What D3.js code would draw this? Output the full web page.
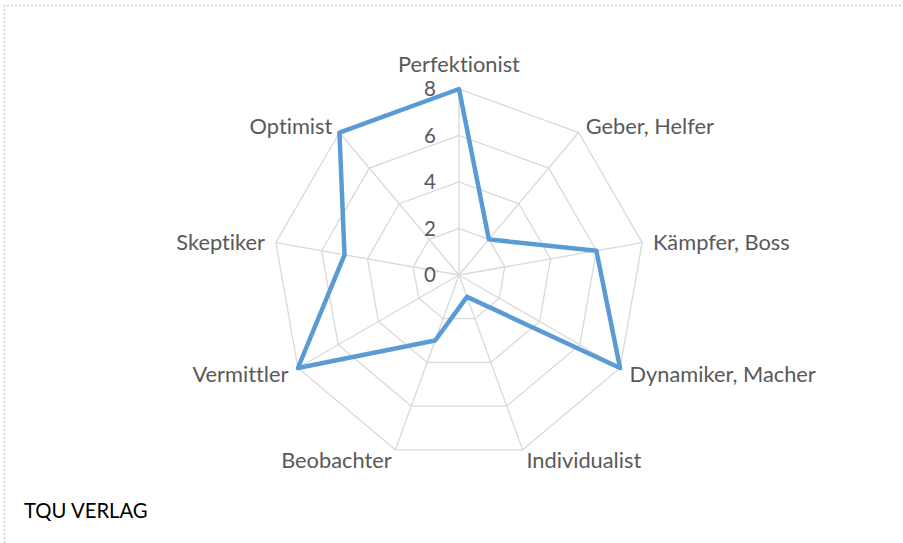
<!DOCTYPE html>
<meta charset="utf-8">
<script src="https://d3js.org/d3.v7.min.js"></script>
<style>
  body { margin: 0; background: #fff; }
  text { font-family: Lato, "Open Sans", sans-serif; font-variant-ligatures: none; }
</style>
<body>
<script>
// Werte
var categories = ["Perfektionist", "Geber, Helfer", "Kämpfer, Boss", "Dynamiker, Macher",
                  "Individualist", "Beobachter", "Vermittler", "Skeptiker", "Optimist"];
var values = [8, 2, 6, 8, 1, 3, 8, 5, 8];
var ticks = [0, 2, 4, 6, 8];

var width = 903, height = 543;
var cx = 459, cy = 275, R = 186;

var svg = d3.select("body").append("svg")
    .attr("width", width)
    .attr("height", height);

// gepunkteter Rahmen (nur oben und links sichtbar)
svg.append("path")
    .attr("d", "M4.5,543 V5.5 H903")
    .attr("fill", "none")
    .attr("stroke", "#d0d0d0")
    .attr("stroke-width", 1.5)
    .attr("stroke-dasharray", "2,2");

var r = d3.scaleLinear().domain([0, 8]).range([0, R]);
var angle = d3.scaleLinear().domain([0, categories.length]).range([0, 2 * Math.PI]);

function pt(i, v) {
  var a = angle(i);
  return [cx + r(v) * Math.sin(a), cy - r(v) * Math.cos(a)];
}

var g = svg.append("g");

// Gitterringe
g.selectAll("path.ring")
  .data(ticks.filter(d => d > 0))
  .join("path")
    .attr("class", "ring")
    .attr("fill", "none")
    .attr("stroke", "#d9d9d9")
    .attr("stroke-width", 1.3)
    .attr("d", t => d3.line()(categories.map((c, i) => pt(i, t))) + "Z");

// Speichen
g.selectAll("line.spoke")
  .data(categories)
  .join("line")
    .attr("class", "spoke")
    .attr("stroke", "#d9d9d9")
    .attr("stroke-width", 1.3)
    .attr("x1", cx).attr("y1", cy)
    .attr("x2", (d, i) => pt(i, 8)[0])
    .attr("y2", (d, i) => pt(i, 8)[1]);

// Achsenbeschriftung
g.selectAll("text.tick")
  .data(ticks)
  .join("text")
    .attr("class", "tick")
    .attr("x", cx - 23)
    .attr("y", d => cy - r(d))
    .attr("dy", "0.36em")
    .attr("text-anchor", "end")
    .attr("font-size", 20.5)
    .attr("fill", "#595959")
    .text(d => d);

// Kategorien
g.selectAll("text.cat")
  .data(categories)
  .join("text")
    .attr("class", "cat")
    .attr("font-size", 21.8)
    .attr("fill", "#595959")
    .attr("text-anchor", (d, i) => {
      var s = Math.sin(angle(i));
      return Math.abs(s) < 0.01 ? "middle" : (s > 0 ? "start" : "end");
    })
    .attr("x", (d, i) => pt(i, 8)[0] + 11 * Math.sin(angle(i)))
    .attr("y", (d, i) => {
      var c = Math.cos(angle(i));
      var p = pt(i, 8);
      if (c > 0.99) return p[1] - 25;
      return p[1] + 1.5 - 9.5 * c;
    })
    .attr("dy", "0.35em")
    .text(d => d);

// Datenreihe
g.append("path")
    .datum(values)
    .attr("fill", "none")
    .attr("stroke", "#5b9bd5")
    .attr("stroke-width", 4.5)
    .attr("stroke-linejoin", "round")
    .attr("d", v => d3.line()(v.map((d, i) => pt(i, d))) + "Z");

svg.append("text")
    .attr("x", 24)
    .attr("y", 518)
    .attr("font-size", 20.3)
    .attr("fill", "#000")
    .text("TQU VERLAG");
</script>
</body>
